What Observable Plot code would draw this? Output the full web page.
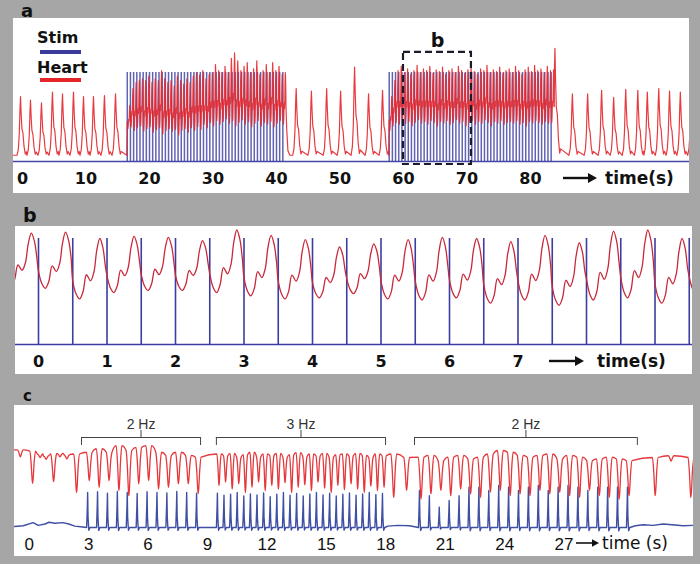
<!DOCTYPE html>
<html><head><meta charset="utf-8">
<script src="https://cdn.jsdelivr.net/npm/d3@7"></script>
<script src="https://cdn.jsdelivr.net/npm/@observablehq/plot@0.6"></script>
<style>
html,body{margin:0;padding:0;background:#a6a6a6;}
#fig{position:relative;width:700px;height:564px;background:#a6a6a6;overflow:hidden;}
</style></head><body><div id="fig"></div>
<script>
// ---------------- DATA ----------------
// Panel a (0-105 s, signal units: stim pulse = 1)
const ticksA = [0,10,20,30,40,50,60,70,80];
const stimRateA = 2;                 // Hz
const stimStartA = [16.5, 57.75];    // s
const stimCountA = [50, 52];
const heartPreT = [-0.31,1.26,2.99,4.72,6.30,8.03,9.61,11.18,12.91,14.65];
const heartPreV = [0.73,0.69,0.66,0.78,0.76,0.78,0.73,0.73,0.74,0.76];
const heartMidT = [43.1,45.5,47.9,50.1,52.3,54.5,56.7];
const heartMidV = [0.82,0.79,0.82,0.79,1.06,0.76,0.80];
const heartPostT = [83.85,86.6,89.0,91.2,93.1,95.0,96.9,98.4,100.2,101.9,103.6,105.3];
const heartPostV = [1.27,0.76,0.76,0.80,0.72,0.81,0.80,0.78,0.82,0.79,0.78,0.75];
const block1Peak = [0.63,0.82,0.89,0.91,0.93,0.91,0.96,0.89,0.93,0.91,1.02,0.93,0.89,0.91,0.85,0.96,0.91,0.87,0.93,0.89,0.96,1.00,0.97,1.02,0.93,0.98,1.00,1.09,1.02,1.00,1.07,1.00,1.16,1.22,1.13,1.02,1.07,1.11,1.00,1.04,1.13,0.98,1.02,1.09,1.00,1.11,1.02,1.07,0.98,1.00];
const block1Trough = [0.37,0.39,0.35,0.38,0.40,0.34,0.37,0.39,0.33,0.36,0.38,0.31,0.35,0.37,0.34,0.36,0.30,0.35,0.37,0.33,0.38,0.35,0.39,0.36,0.42,0.38,0.44,0.40,0.46,0.42,0.45,0.48,0.43,0.46,0.40,0.44,0.47,0.42,0.45,0.39,0.43,0.46,0.40,0.44,0.42,0.45,0.39,0.43,0.46,0.42];
const block2Peak = [0.73,0.91,1.02,1.07,1.00,1.04,0.98,1.02,1.08,1.00,1.04,1.02,1.07,0.99,1.03,1.01,1.06,0.98,1.02,1.04,1.00,1.07,1.02,0.99,1.03,1.06,1.01,0.98,1.04,1.02,1.08,1.00,1.03,1.01,1.06,0.99,1.02,1.04,1.00,1.07,1.02,0.98,1.03,1.06,1.01,1.08,1.02,1.04,1.00,1.07,1.02,1.03];
const block2Trough = [0.35,0.40,0.44,0.42,0.46,0.43,0.45,0.40,0.44,0.47,0.43,0.45,0.42,0.46,0.44,0.40,0.45,0.43,0.46,0.42,0.44,0.47,0.43,0.45,0.40,0.44,0.46,0.42,0.45,0.43,0.47,0.44,0.40,0.45,0.43,0.46,0.42,0.44,0.45,0.43,0.46,0.42,0.44,0.40,0.45,0.43,0.46,0.44,0.42,0.45,0.43,0.44];
const zoomWindow = [60, 70.7];       // the 10 s window shown in b
const restLevel = 0.07;

// Panel b (10 s window, 2 Hz pacing)
const ticksB = [0,1,2,3,4,5,6,7];
const stimRateB = 2, stimCountB = 20;
const peakB   = [1.05,1.06,1.00,1.02,1.01,0.98,1.08,1.03,0.99,0.92,0.95,0.99,1.01,1.00,0.97,1.03,0.96,1.07,1.08,1.00,1.00];
const troughB = [0.55,0.53,0.43,0.49,0.51,0.51,0.49,0.46,0.43,0.44,0.48,0.43,0.42,0.44,0.39,0.42,0.37,0.42,0.44,0.39,0.48];

// Panel c (0-33 s, 2 Hz / 3 Hz / 2 Hz)
const ticksC = [0,3,6,9,12,15,18,21,24,27];
const stimStartC = [2.95, 9.5, 19.7];
const stimRateC = [2, 3, 2];
const stimCountC = [12, 26, 22];
const stimAmpC1 = [1.0,1.02,0.98,1.03,1.0,0.97,1.02,1.0,0.99,1.03,1.0,0.98];
const stimAmpC2 = [0.98,0.92,0.95,1.0,0.9,0.96,0.93,0.99,0.88,0.95,1.0,0.92,0.97,0.9,0.96,1.0,0.93,0.98,0.9,0.95,0.99,0.92,0.96,1.0,0.94,0.97];
const stimAmpC3 = [1.06,0.91,0.58,0.77,0.91,1.15,1.15,1.06,1.2,1.15,1.06,1.15,1.2,1.06,1.15,1.2,1.15,1.06,1.15,1.15,1.15,1.15];
const blueNoiseT = [-0.74,-0.3,0.2,0.45,0.8,1.0,1.3,1.7,2.0,2.3,2.6,18.1,18.6,19.2,30.6,31.0,31.5,32.0,32.6,33.0,33.5];
const blueNoiseV = [0.03,0.05,0.14,0.06,0.1,0.15,0.12,0.14,0.1,0.04,0.02,0.04,0.06,0.05,0.05,0.08,0.06,0.1,0.07,0.05,0.06];
const redPreDipT = [-0.45,0.17,0.55,0.85,1.23,1.55,1.9,2.39];
const redPreDipV = [2.02,1.26,2.0,1.95,1.31,2.02,1.96,1.0];
const redPreTop  = [2.22,2.18,2.1,2.06,2.1,2.12,2.08,2.1];
const redDipC1 = [1.34,1.15,1.34,1.06,0.91,1.25,1.34,1.10,1.15,1.25,1.25,0.97];
const redTopC1 = [2.15,2.25,2.15,2.34,2.2,2.29,2.34,2.15,2.06,2.15,2.06,2.01];
const redDipC2 = [1.2,1.3,1.1,1.25,1.0,1.15,1.3,1.05,1.2,1.1,1.28,1.0,1.15,1.22,1.05,1.3,1.12,1.0,1.2,1.08,1.25,1.1,1.0,1.18,1.05,1.15];
const redTopC2 = [2.1,2.05,2.12,2.0,2.08,2.15,2.02,2.1,2.06,2.12,2.0,2.08,2.14,2.03,2.1,2.05,2.12,2.0,2.08,2.1,2.04,2.12,2.06,2.0,2.1,2.05];
const redGapDipT = [18.4, 19.05];
const redGapDipV = [0.86, 1.06];
const redGapTop  = [2.1, 2.0];
const redDipC3 = [0.81,0.96,1.06,0.91,1.1,0.96,0.86,1.01,1.06,0.91,0.96,0.91,1.06,0.96,1.01,0.91,0.86,1.06,0.91,0.86,0.81,0.91];
const redTopC3 = [2.01,2.06,1.91,2.01,2.06,1.96,2.01,2.1,2.2,2.15,2.06,2.01,2.06,2.1,1.96,2.06,2.01,1.91,1.96,2.01,1.96,1.91];
const redPostDipT = [31.6, 32.4, 33.4];
const redPostDipV = [0.91, 1.9, 0.86];
const redPostTop  = [2.0, 2.05, 2.0];
const dipDelay = 0.08;
const bracketStart = [2.64, 9.45, 19.45];
const bracketEnd   = [8.65, 17.99, 30.7];
const bracketLabel = ["2 Hz", "3 Hz", "2 Hz"];

// waveform templates read from single beats
const cycleP = [0,0.1,0.2,0.3,0.4,0.52,0.62,0.7,0.79,0.88,0.95];   // paced beat, phase of cycle
const cycleF = [0.3,0.08,0,0.12,0.4,0.3,0.45,0.8,1,0.85,0.55];
const beatOffT = [-0.55,-0.35,-0.2,-0.08,0,0.1,0.22,0.38,0.55,0.75,0.9]; // spontaneous beat, s from peak
const beatF = [0,0.1,0.35,0.8,1,0.7,0.45,0.38,0.15,0.02,0.06];
const spikeOff = [-0.05,-0.015,0,0.02,0.06,0.12];
const spikeF = [0,0.6,1,0.3,-0.08,0];
const dipOff = [-0.14,-0.07,-0.02,0,0.03,0.08,0.15];
const dipF = [0,0.4,0.9,1,0.85,0.35,0];

// ---------------- BUILD ----------------
function pushPt(arr, t, v) { if (!arr.length || t > arr[arr.length-1].t + 1e-6) arr.push({t, v}); }
const seq = (start, rate, n) => Array.from({length: n}, (_, i) => start + i / rate);

// panel a
const stimTimesA = stimStartA.flatMap((s, i) => seq(s, stimRateA, stimCountA[i]));
const heartA = [];
pushPt(heartA, -1.45, restLevel);
function addBeats(T, V) { T.forEach((t0, i) => beatOffT.forEach((o, k) => pushPt(heartA, t0 + o, restLevel + beatF[k] * (V[i] - restLevel)))); }
function addBlock(start, peaks, troughs, decay) {
  const per = 1 / stimRateA;
  pushPt(heartA, start - 0.08, restLevel);
  peaks.forEach((p, i) => cycleP.forEach((ph, k) => pushPt(heartA, start + (i + ph) * per, troughs[i] + cycleF[k] * (p - troughs[i]))));
  const end = start + peaks.length * per;
  const n = peaks.length - 1;
  pushPt(heartA, end, troughs[n] + 0.3 * (peaks[n] - troughs[n]));
  if (decay) { pushPt(heartA, end + 0.12, 0.35); pushPt(heartA, end + 0.3, 0.12); pushPt(heartA, end + 0.6, restLevel); }
}
addBeats(heartPreT, heartPreV);
addBlock(stimStartA[0], block1Peak, block1Trough, true);
addBeats(heartMidT, heartMidV);
addBlock(stimStartA[1], block2Peak, block2Trough, false);
addBeats(heartPostT, heartPostV);

// panel b
const stimTimesB = seq(0, stimRateB, stimCountB);
const heartB = [];
peakB.forEach((p, i) => { const s = (i - 1) / stimRateB; cycleP.forEach((ph, k) => pushPt(heartB, s + ph / stimRateB, troughB[i] + cycleF[k] * (p - troughB[i]))); });

// panel c
const stimTimesC = stimStartC.map((s, i) => seq(s, stimRateC[i], stimCountC[i]));
const ampsC = [stimAmpC1, stimAmpC2, stimAmpC3];
const bluePts = blueNoiseT.map((t, i) => ({t, v: blueNoiseV[i]}));
stimTimesC.forEach((ts, j) => ts.forEach((t0, i) => spikeOff.forEach((o, k) => bluePts.push({t: t0 + o, v: spikeF[k] * ampsC[j][i]}))));
bluePts.sort((a, b) => a.t - b.t);
const blueC = []; bluePts.forEach(p => pushPt(blueC, p.t, p.v));

const redC = [];
pushPt(redC, -0.75, 2.22);
function addDips(T, B, Tp, w) { T.forEach((t0, i) => dipOff.forEach((o, k) => pushPt(redC, t0 + o * w, Tp[i] - dipF[k] * (Tp[i] - B[i])))); }
addDips(redPreDipT, redPreDipV, redPreTop, 1);
addDips(stimTimesC[0].map(t => t + dipDelay), redDipC1, redTopC1, 1);
addDips(stimTimesC[1].map(t => t + dipDelay), redDipC2, redTopC2, 0.75);
addDips(redGapDipT, redGapDipV, redGapTop, 1);
addDips(stimTimesC[2].map(t => t + dipDelay), redDipC3, redTopC3, 1);
addDips(redPostDipT, redPostDipV, redPostTop, 1);
const brackets = bracketStart.map((s, i) => ({t0: s, t1: bracketEnd[i], mid: (s + bracketEnd[i]) / 2, label: bracketLabel[i]}));

// ---------------- DRAW ----------------
const fig = document.getElementById("fig");
function place(el, left, top, font) {
  el.style.position = "absolute"; el.style.left = left + "px"; el.style.top = top + "px";
  el.style.background = "white"; el.style.overflow = "visible"; el.style.maxWidth = "none";
  Object.assign(el.style, font);
  fig.appendChild(el);
}
const STIM = "#4646a6", RED = "#e4262b";
const boldFont = {fontFamily: "'DejaVu Sans', sans-serif", fontSize: "16px", fontWeight: "bold", color: "#111"};

const plotA = Plot.plot({
  width: 676, height: 175, marginTop: 0, marginRight: 0, marginLeft: 0, marginBottom: 25,
  x: {domain: [-1.417, 105.04], ticks: ticksA, tickSize: 0, tickPadding: 4, label: null},
  y: {domain: [-0.0787, 1.6067], axis: null},
  marks: [
    Plot.ruleX(stimTimesA, {x: d => d, y1: () => 0, y2: () => 1, stroke: STIM, strokeWidth: 1.5, strokeOpacity: 0.85}),
    Plot.ruleY([0], {stroke: STIM, strokeWidth: 1.5}),
    Plot.line(heartA, {x: "t", y: "v", stroke: RED, strokeWidth: 1.2, strokeOpacity: 0.9, clip: true}),
    Plot.rect([zoomWindow], {x1: d => d[0], x2: d => d[1], y1: () => -0.034, y2: () => 1.225, fill: "none", stroke: "#1b1b2b", strokeWidth: 2.2, strokeDasharray: "7,4"}),
    Plot.text([zoomWindow], {x: d => (d[0] + d[1]) / 2, y: () => 1.36, text: () => "b", fontSize: 19, fontWeight: "bold", fill: "#111"})
  ]
});
place(plotA, 13, 18, boldFont);

const plotB = Plot.plot({
  width: 677, height: 148, marginTop: 0, marginRight: 0, marginLeft: 0, marginBottom: 26,
  x: {domain: [-0.3358, 9.5474], ticks: ticksB, tickSize: 0, tickPadding: 7, label: null},
  y: {domain: [-0.0377, 1.1132], axis: null},
  marks: [
    Plot.ruleX(stimTimesB, {x: d => d, y1: () => 0, y2: () => 1, stroke: "#3c3ca2", strokeWidth: 1.6}),
    Plot.ruleY([0], {stroke: "#3c3ca2", strokeWidth: 1.6}),
    Plot.line(heartB, {x: "t", y: "v", stroke: "#c8283a", strokeWidth: 1.3, curve: "catmull-rom", clip: true})
  ]
});
place(plotB, 15, 226, boldFont);

const plotC = Plot.plot({
  width: 679, height: 151, marginTop: 0, marginRight: 0, marginLeft: 0, marginBottom: 23,
  x: {domain: [-0.742, 33.534], ticks: ticksC, tickSize: 0, tickPadding: 4, label: null},
  y: {domain: [-0.1714, 3.4857], axis: null},
  marks: [
    Plot.line(blueC, {x: "t", y: "v", stroke: "#3f4fa3", strokeWidth: 1.4, clip: true}),
    Plot.line(redC, {x: "t", y: "v", stroke: "#e4383c", strokeWidth: 1.3, curve: "monotone-x", clip: true}),
    Plot.ruleY(brackets, {x1: "t0", x2: "t1", y: () => 2.571, stroke: "#444", strokeWidth: 1}),
    Plot.ruleX(brackets, {x: "t0", y1: () => 2.343, y2: () => 2.571, stroke: "#444", strokeWidth: 1}),
    Plot.ruleX(brackets, {x: "t1", y1: () => 2.343, y2: () => 2.571, stroke: "#444", strokeWidth: 1}),
    Plot.ruleX(brackets, {x: "mid", y1: () => 2.571, y2: () => 2.771, stroke: "#444", strokeWidth: 1}),
    Plot.text(brackets, {x: "mid", y: () => 2.954, text: "label", fontSize: 14, fill: "#333"})
  ]
});
place(plotC, 14, 405, {fontFamily: "'Liberation Sans', Arial, sans-serif", fontSize: "17px", fontWeight: "normal", color: "#111"});

// overlay: panel letters, legend, time arrows
const ov = d3.select(fig).append("svg").attr("width", 700).attr("height", 564)
  .style("position", "absolute").style("left", "0px").style("top", "0px").style("pointer-events", "none");
function txt(x, y, s, size, weight, family) {
  ov.append("text").attr("x", x).attr("y", y).text(s).attr("font-size", size).attr("font-weight", weight)
    .attr("font-family", family || "DejaVu Sans").attr("fill", "#111");
}
function arrow(x1, x2, y, w, head) {
  ov.append("line").attr("x1", x1).attr("x2", x2 - head).attr("y1", y).attr("y2", y).attr("stroke", "#111").attr("stroke-width", w);
  ov.append("path").attr("d", `M${x2},${y}L${x2 - head},${y - head * 0.55}L${x2 - head},${y + head * 0.55}Z`).attr("fill", "#111");
}
txt(21, 17, "a", 18, "bold");
txt(23, 222, "b", 19, "bold");
txt(23, 401, "c", 15, "bold");
txt(37, 42.7, "Stim", 16, "bold");
ov.append("line").attr("x1", 40).attr("x2", 81).attr("y1", 52).attr("y2", 52).attr("stroke", "#3a3a9a").attr("stroke-width", 4);
txt(37, 72.7, "Heart", 16, "bold");
ov.append("line").attr("x1", 40).attr("x2", 81).attr("y1", 80).attr("y2", 80).attr("stroke", RED).attr("stroke-width", 4);
arrow(563, 597, 178, 2.4, 9);
txt(605, 184, "time(s)", 17, "bold");
arrow(549, 584, 361, 2.4, 9);
txt(597, 367, "time(s)", 17, "bold");
arrow(576, 599, 543, 1.6, 7);
txt(602, 548.5, "time (s)", 17, "normal");
</script></body></html>
